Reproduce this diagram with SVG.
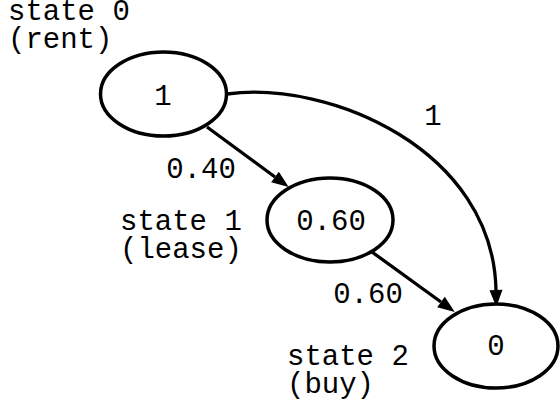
<svg xmlns="http://www.w3.org/2000/svg" width="560" height="408" viewBox="0 0 560 408">
<style>
text{font-family:"Liberation Mono","Courier New",monospace;font-size:29px;fill:#000}
.c{text-anchor:middle}
ellipse{fill:#fff;stroke:#000;stroke-width:3.5}
.e{fill:none;stroke:#000;stroke-width:3.3}
</style>
<defs>
<marker id="ah" markerUnits="userSpaceOnUse" markerWidth="18" markerHeight="14" refX="0" refY="6.5" orient="auto" overflow="visible">
<path d="M0,0 L17,6.5 L0,13 z" fill="#000"/>
</marker>
</defs>
<rect width="560" height="408" fill="#fff"/>
<g id="edges">
<path class="e" d="M207,127 L275,177" marker-end="url(#ah)"/>
<path class="e" d="M372,252 L441,302" marker-end="url(#ah)"/>
<path class="e" d="M227,94 C330,80 493,150 496,290" marker-end="url(#ah)"/>
<text class="c" x="201" y="178">0.40</text>
<text class="c" x="368" y="303">0.60</text>
<text class="c" x="433" y="125">1</text>
</g>
<g id="s0">
<ellipse cx="163.5" cy="94" rx="63" ry="42"/>
<text class="c" x="163" y="105">1</text>
<text x="8" y="20">state 0</text>
<text x="8" y="48">(rent)</text>
</g>
<g id="s1">
<ellipse cx="330" cy="220" rx="63" ry="42"/>
<text class="c" x="331" y="230">0.60</text>
<text x="120" y="230">state 1</text>
<text x="120" y="258">(lease)</text>
</g>
<g id="s2">
<ellipse cx="496" cy="346" rx="62" ry="42"/>
<text class="c" x="496" y="355">0</text>
<text x="287" y="365">state 2</text>
<text x="287" y="393">(buy)</text>
</g>
</svg>
